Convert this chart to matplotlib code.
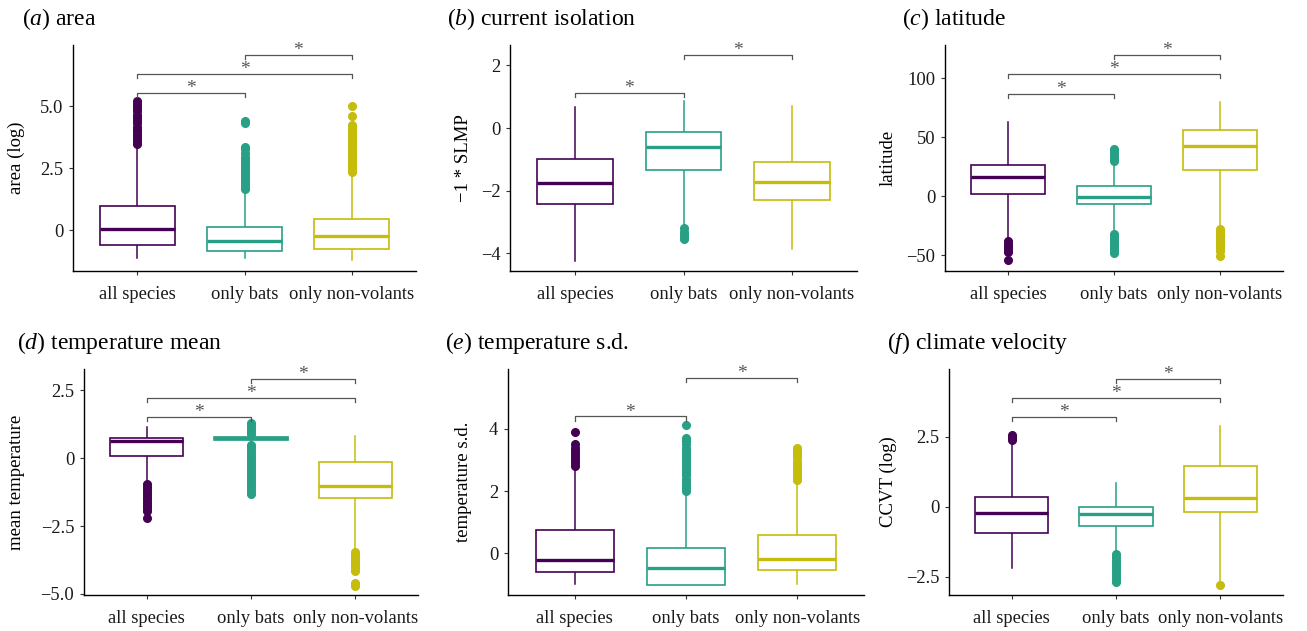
"""Boxplots of island traits for all species, bats and non-volant mammals."""
import matplotlib
matplotlib.use("Agg")
import matplotlib.pyplot as plt

plt.rcParams["font.family"] = ["Liberation Serif", "DejaVu Serif"]
plt.rcParams["mathtext.fontset"] = "custom"
plt.rcParams["mathtext.it"] = "Liberation Serif:italic"
plt.rcParams["mathtext.rm"] = "Liberation Serif"

W, H = 1307, 631

groups = ["all species", "only bats", "only non-volants"]
colors = ["#440154", "#27A085", "#C5BC0C"]

# (a) area
area_q1 = [-0.60, -0.85, -0.77]
area_med = [0.03, -0.46, -0.23]
area_q3 = [0.98, 0.11, 0.44]
area_lo = [-1.14, -1.14, -1.22]
area_hi = [3.40, 1.60, 2.30]
area_out = [
    [3.45, 3.55, 3.65, 3.75, 3.85, 3.95, 4.05, 4.15, 4.30, 4.45, 4.55, 4.65, 4.80, 4.90, 5.00, 5.10, 5.20],
    [1.65, 1.75, 1.85, 1.95, 2.05, 2.15, 2.25, 2.35, 2.45, 2.55, 2.65, 2.75, 2.85, 2.95, 3.10, 3.25, 3.35, 4.30, 4.40],
    [2.35, 2.45, 2.55, 2.65, 2.75, 2.85, 2.95, 3.05, 3.15, 3.25, 3.35, 3.45, 3.55, 3.65, 3.75, 3.85, 3.95, 4.05, 4.15, 4.25, 4.60, 5.00],
]
area_sig = [(1, 2, 5.52), (1, 3, 6.29), (2, 3, 7.07)]
area_ticks = [0, 2.5, 5.0]
area_ticklabels = ["0", "2.5", "5.0"]

# (b) current isolation
iso_q1 = [-2.43, -1.34, -2.30]
iso_med = [-1.76, -0.61, -1.71]
iso_q3 = [-0.99, -0.12, -1.09]
iso_lo = [-4.24, -3.09, -3.87]
iso_hi = [0.66, 0.86, 0.70]
iso_out = [
    [],
    [-3.20, -3.30, -3.40, -3.50, -3.55],
    [],
]
iso_sig = [(1, 2, 1.11), (2, 3, 2.34)]
iso_ticks = [-4, -2, 0, 2]
iso_ticklabels = ["\u22124", "\u22122", "0", "2"]

# (c) latitude
lat_q1 = [1.7, -6.3, 22.5]
lat_med = [16.4, -0.6, 42.9]
lat_q3 = [26.5, 8.7, 56.2]
lat_lo = [-37.0, -30.0, -27.0]
lat_hi = [63.2, 30.0, 80.2]
lat_out = [
    [-38, -40, -42, -44, -46, -47, -54],
    [30, 32, 34, 36, 38, 40, -32, -34, -36, -38, -40, -42, -44, -46, -48],
    [-28, -30, -32, -34, -36, -38, -40, -42, -44, -46, -51],
]
lat_sig = [(1, 2, 87.0), (1, 3, 103.6), (2, 3, 120.0)]
lat_ticks = [-50, 0, 50, 100]
lat_ticklabels = ["\u221250", "0", "50", "100"]

# (d) temperature mean
tmean_q1 = [0.07, 0.67, -1.48]
tmean_med = [0.63, 0.74, -1.03]
tmean_q3 = [0.75, 0.80, -0.15]
tmean_lo = [-0.87, 0.60, -3.36]
tmean_hi = [1.15, 0.86, 0.83]
tmean_out = [
    [-0.95, -1.05, -1.15, -1.25, -1.35, -1.45, -1.55, -1.65, -1.75, -1.85, -1.95, -2.20],
    [1.30, 1.20, 1.10, 1.00, 0.90, 0.50, 0.40, 0.30, 0.20, 0.10, 0.00, -0.10, -0.20, -0.30,
     -0.40, -0.50, -0.60, -0.70, -0.80, -0.90, -1.00, -1.10, -1.20, -1.30],
    [-3.45, -3.55, -3.65, -3.75, -3.85, -3.95, -4.05, -4.15, -4.60, -4.70],
]
tmean_sig = [(1, 2, 1.52), (1, 3, 2.22), (2, 3, 2.92)]
tmean_ticks = [-5.0, -2.5, 0, 2.5]
tmean_ticklabels = ["\u22125.0", "\u22122.5", "0", "2.5"]

# (e) temperature s.d.
tsd_q1 = [-0.62, -1.03, -0.53]
tsd_med = [-0.23, -0.49, -0.20]
tsd_q3 = [0.73, 0.17, 0.59]
tsd_lo = [-1.01, -1.03, -1.01]
tsd_hi = [2.75, 1.95, 2.30]
tsd_out = [
    [2.80, 2.90, 3.00, 3.10, 3.20, 3.30, 3.40, 3.50, 3.90],
    [2.00, 2.10, 2.20, 2.30, 2.40, 2.50, 2.60, 2.70, 2.80, 2.90, 3.00, 3.10, 3.20, 3.30,
     3.40, 3.50, 3.60, 3.70, 4.12],
    [2.35, 2.45, 2.55, 2.65, 2.75, 2.85, 2.95, 3.05, 3.15, 3.25, 3.35, 3.40],
]
tsd_sig = [(1, 2, 4.40), (2, 3, 5.63)]
tsd_ticks = [0, 2, 4]
tsd_ticklabels = ["0", "2", "4"]

# (f) climate velocity
ccvt_q1 = [-0.92, -0.68, -0.17]
ccvt_med = [-0.23, -0.25, 0.31]
ccvt_q3 = [0.36, -0.02, 1.46]
ccvt_lo = [-2.19, -1.65, -2.67]
ccvt_hi = [2.35, 0.85, 2.90]
ccvt_out = [
    [2.40, 2.45, 2.50, 2.55],
    [-1.70, -1.80, -1.90, -2.00, -2.10, -2.20, -2.30, -2.40, -2.50, -2.60, -2.70],
    [-2.80],
]
ccvt_sig = [(1, 2, 3.20), (1, 3, 3.88), (2, 3, 4.57)]
ccvt_ticks = [-2.5, 0, 2.5]
ccvt_ticklabels = ["\u22122.5", "0", "2.5"]

panels = [
    ("a", "area", "area (log)", area_q1, area_med, area_q3, area_lo, area_hi, area_out,
     area_sig, area_ticks, area_ticklabels, (-1.65, 7.46), (73, 45, 416, 271), (22, 19), 16),
    ("b", "current isolation", "\u22121 * SLMP", iso_q1, iso_med, iso_q3, iso_lo, iso_hi, iso_out,
     iso_sig, iso_ticks, iso_ticklabels, (-4.56, 2.65), (510, 45, 857, 271), (447, 19), 463),
    ("c", "latitude", "latitude", lat_q1, lat_med, lat_q3, lat_lo, lat_hi, lat_out,
     lat_sig, lat_ticks, lat_ticklabels, (-63.3, 128.2), (945, 45, 1283, 271), (902, 19), 888),
    ("d", "temperature mean", "mean temperature", tmean_q1, tmean_med, tmean_q3, tmean_lo, tmean_hi,
     tmean_out, tmean_sig, tmean_ticks, tmean_ticklabels, (-5.04, 3.29), (84, 369, 418, 595), (17, 343), 17),
    ("e", "temperature s.d.", "temperature s.d.", tsd_q1, tsd_med, tsd_q3, tsd_lo, tsd_hi, tsd_out,
     tsd_sig, tsd_ticks, tsd_ticklabels, (-1.35, 5.93), (508, 369, 864, 595), (445, 343), 463),
    ("f", "climate velocity", "CCVT (log)", ccvt_q1, ccvt_med, ccvt_q3, ccvt_lo, ccvt_hi, ccvt_out,
     ccvt_sig, ccvt_ticks, ccvt_ticklabels, (-3.15, 4.92), (949, 369, 1283, 595), (887, 343), 888),
]

fig = plt.figure(figsize=(W / 100, H / 100), dpi=100)

for (letter, title, ylabel, q1, med, q3, lo, hi, out, sig, ticks, ticklabels,
     ylim, box_px, title_px, ylab_x) in panels:
    left, top, right, bottom = box_px
    ax = fig.add_axes([left / W, 1 - bottom / H, (right - left) / W, (bottom - top) / H])

    stats = []
    for i in range(3):
        stats.append(dict(med=med[i], q1=q1[i], q3=q3[i], whislo=lo[i], whishi=hi[i],
                          fliers=out[i], label=groups[i]))
    parts = ax.bxp(stats, positions=[1, 2, 3], widths=0.7, patch_artist=True,
                   showcaps=False, manage_ticks=False)
    for i, c in enumerate(colors):
        parts["boxes"][i].set(facecolor="white", edgecolor=c, linewidth=1.2, zorder=3)
        parts["medians"][i].set(color=c, linewidth=2.4, zorder=4)
        for w in parts["whiskers"][2 * i:2 * i + 2]:
            w.set(color=c, linewidth=1.1, zorder=2)
        parts["fliers"][i].set(marker="o", markerfacecolor=c, markeredgecolor=c,
                               markersize=5.5, zorder=2)

    span = ylim[1] - ylim[0]
    tip = 0.018 * span
    for x1, x2, y in sig:
        ax.plot([x1, x1, x2, x2], [y - tip, y, y, y - tip], color="#555555",
                linewidth=0.9, clip_on=False, zorder=5)
        ax.annotate("*", xy=((x1 + x2) / 2, y), xytext=(0, -3), textcoords="offset points",
                    ha="center", va="bottom", fontsize=14, color="#555555")

    ax.set_xlim(0.4, 3.6)
    ax.set_ylim(*ylim)
    ax.set_xticks([1, 2, 3])
    ax.set_xticklabels(groups)
    ax.set_yticks(ticks)
    ax.set_yticklabels(ticklabels)
    ax.tick_params(direction="out", length=3, width=0.8, labelsize=13.3,
                   labelcolor="#1a1a1a", color="#333333")
    ax.tick_params(axis="x", pad=8)
    ax.tick_params(axis="y", pad=4)
    for side in ("top", "right"):
        ax.spines[side].set_visible(False)
    for side in ("left", "bottom"):
        ax.spines[side].set_linewidth(1.0)

    fig.text(title_px[0] / W, 1 - title_px[1] / H, f"($\\mathit{{{letter}}}$) {title}",
             ha="left", va="center", fontsize=17)
    fig.text(ylab_x / W, 1 - ((top + bottom) / 2) / H, ylabel, rotation=90,
             ha="center", va="center", fontsize=13.5)

fig.savefig("out.png", dpi=100)
